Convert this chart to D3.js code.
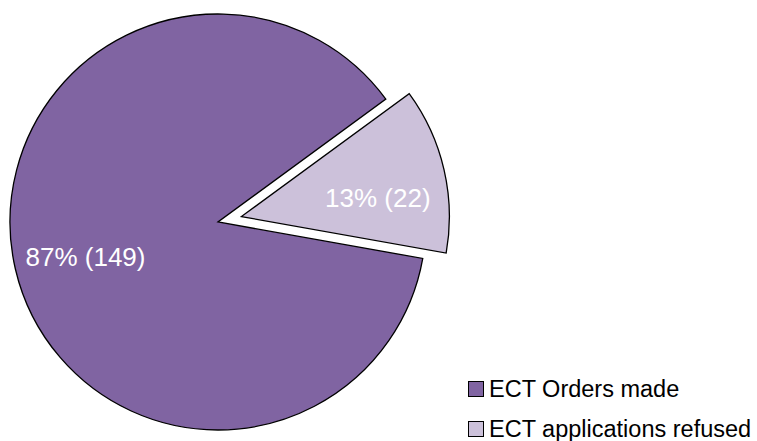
<!DOCTYPE html>
<html lang="en">
<head>
    <meta charset="UTF-8">
    <script src="https://cdn.jsdelivr.net/npm/d3@7"></script>
    <title>ECT orders pie</title>
    <style>
        body { margin: 0; background: #fff; }
        text { font-family: "Liberation Sans", Arial, Helvetica, sans-serif; }
    </style>
</head>
<body>
<svg width="757" height="441"></svg>

<script>
    const categories = ["ECT Orders made", "ECT applications refused"];
    const values = [149, 22];
    const colors = ["#8064A2", "#CCC1DA"];

    const cx = 218, cy = 222;
    const radius = 208;
    const explode = 24;     // offset of the pulled-out slice
    const startDeg = 100.1;

    const svg = d3.select("svg");
    const total = d3.sum(values);

    const pie = d3.pie()
        .sort(null)
        .startAngle(startDeg * Math.PI / 180)
        .endAngle(startDeg * Math.PI / 180 + 2 * Math.PI);

    const arcs = pie(values);
    const arc = d3.arc().innerRadius(0).outerRadius(radius);
    const labelArc = d3.arc().innerRadius(136).outerRadius(136);

    function shift(d, i) {
        if (i !== 1) return [0, 0];
        const mid = (d.startAngle + d.endAngle) / 2;
        return [Math.sin(mid) * explode, -Math.cos(mid) * explode];
    }

    const g = svg.append("g").attr("transform", `translate(${cx},${cy})`);

    const slices = g.selectAll("g.slice")
        .data(arcs)
        .join("g")
          .attr("class", "slice")
          .attr("transform", (d, i) => `translate(${shift(d, i)})`);

    slices.append("path")
        .attr("d", arc)
        .attr("fill", (d, i) => colors[i])
        .attr("stroke", "#000")
        .attr("stroke-width", 1.3)
        .attr("stroke-linejoin", "miter");

    slices.append("text")
        .attr("transform", (d, i) => {
            const c = labelArc.centroid(d);
            return `translate(${c[0] + (i === 1 ? 4 : 0)},${c[1] + (i === 1 ? 12 : 4)})`;
        })
        .attr("text-anchor", "middle")
        .attr("dy", "0.35em")
        .attr("fill", "#fff")
        .style("font-size", "26px")
        .text(d => `${Math.round(d.value / total * 100)}% (${d.value})`);

    // legend
    const legend = svg.append("g").attr("transform", "translate(468,381)");
    const rows = legend.selectAll("g")
        .data(categories)
        .join("g")
          .attr("transform", (d, i) => `translate(0,${i * 40})`);

    rows.append("rect")
        .attr("x", 0.5).attr("y", 0.5)
        .attr("width", 15).attr("height", 15)
        .attr("fill", (d, i) => colors[i])
        .attr("stroke", "#000")
        .attr("stroke-width", 1);

    rows.append("text")
        .attr("x", 21)
        .attr("y", 15.5)
        .attr("fill", "#000")
        .style("font-size", "23.5px")
        .text(d => d);
</script>

</body>
</html>
